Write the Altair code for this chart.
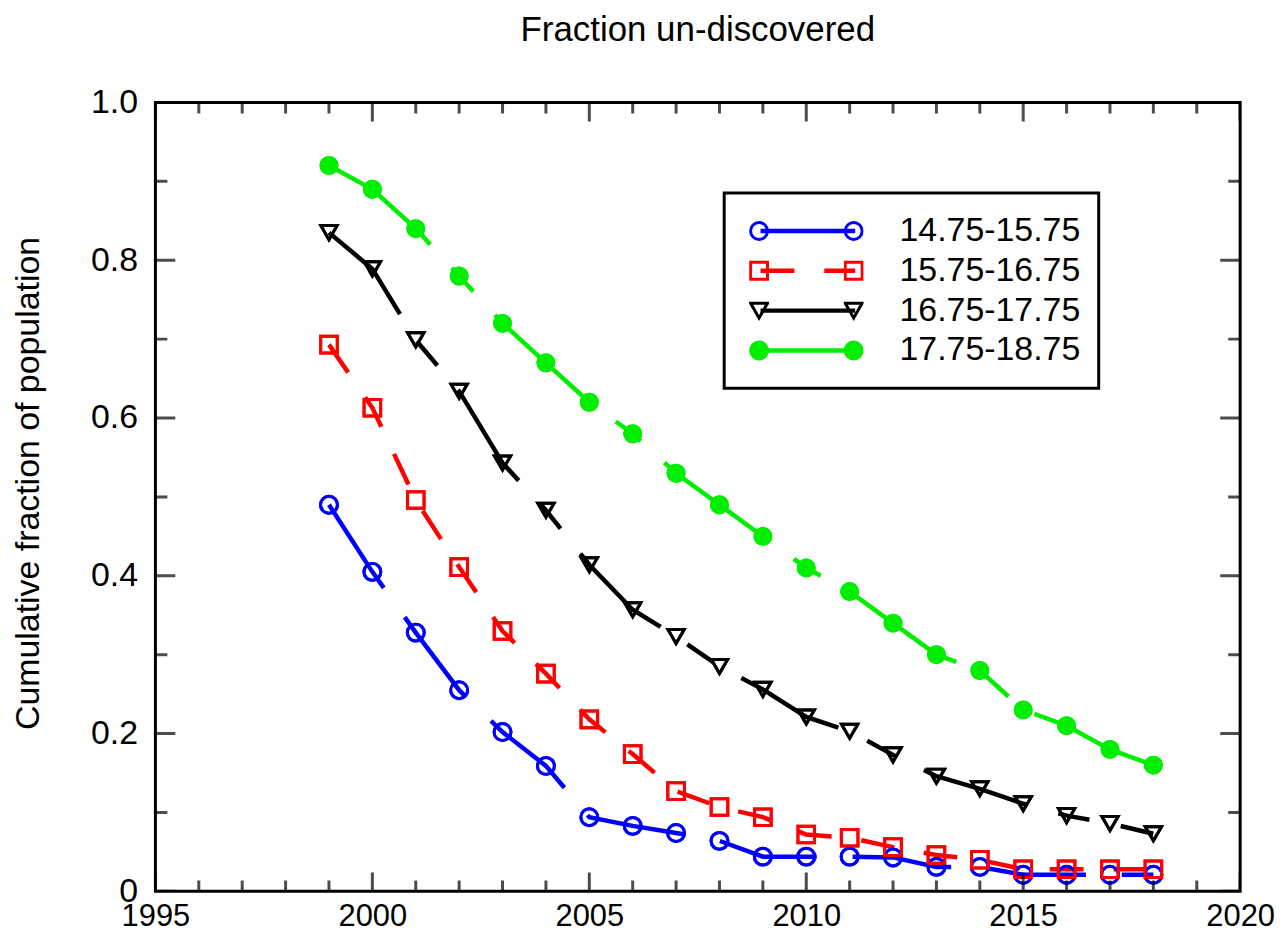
import altair as alt
import pandas as pd

# ---------------- data ----------------
years = list(range(1999, 2019))
series_names = ["14.75-15.75", "15.75-16.75", "16.75-17.75", "17.75-18.75"]
blue_vals = [0.490, 0.405, 0.328, 0.255, 0.202, 0.159, 0.094, 0.083, 0.074, 0.064,
             0.044, 0.044, 0.044, 0.043, 0.031, 0.031, 0.021, 0.021, 0.021, 0.021]
red_vals = [0.693, 0.613, 0.496, 0.411, 0.330, 0.276, 0.218, 0.174, 0.127, 0.107,
            0.094, 0.072, 0.068, 0.056, 0.046, 0.040, 0.028, 0.028, 0.028, 0.028]
black_vals = [0.835, 0.789, 0.699, 0.634, 0.543, 0.483, 0.414, 0.357, 0.323, 0.285,
              0.256, 0.221, 0.203, 0.173, 0.146, 0.130, 0.111, 0.096, 0.086, 0.073]
green_vals = [0.920, 0.890, 0.840, 0.780, 0.720, 0.670, 0.620, 0.580, 0.530, 0.490,
              0.450, 0.410, 0.380, 0.340, 0.300, 0.280, 0.230, 0.210, 0.180, 0.160]

x_major = [1995, 2000, 2005, 2010, 2015, 2020]
x_minor = [y for y in range(1996, 2020) if y % 5 != 0]
y_major = [0.0, 0.2, 0.4, 0.6, 0.8, 1.0]
y_minor = [0.1, 0.3, 0.5, 0.7, 0.9]

# ---------------- styles ----------------
colors = ["#0000ff", "#ff0000", "#000000", "#00ee00"]
dashes = [[100, 36], [34, 30], [110, 32, 32, 32], [130, 32, 32, 32]]
shapes = ["circle", "square", "triangle-down", "circle"]
fills = ["transparent", "transparent", "transparent", "#00ee00"]
sizes = [289, 256, 256, 400]
FONT = "Liberation Sans"
FS = 34

rows = []
for name, vals in zip(series_names, [blue_vals, red_vals, black_vals, green_vals]):
    for yr, v in zip(years, vals):
        rows.append({"year": yr, "value": v, "series": name, "marker": name})
df = pd.DataFrame(rows)

xs = alt.Scale(domain=[1995, 2020], nice=False, zero=False)
ys = alt.Scale(domain=[0, 1], nice=False, zero=False)

x_axis = alt.Axis(values=x_major, format="d", ticks=False, domain=False, grid=False,
                  labelFontSize=31, labelPadding=10, labelFlush=False, labelOverlap=False,
                  title=None)
y_axis = alt.Axis(values=y_major, ticks=False, domain=False, grid=False,
                  labelExpr="datum.value == 0 ? '0' : format(datum.value, '.1f')",
                  labelFontSize=FS, labelPadding=18, labelFlush=False, labelOverlap=False,
                  title="Cumulative fraction of population", titleFontSize=FS,
                  titleFontWeight="normal", titlePadding=45, titleY=382)

LX, LY, PAD, ROWH = 571, 91, 18, 40

line_legend = alt.Legend(orient="none", legendX=LX, legendY=LY, direction="vertical",
                         title=None, symbolType="stroke", symbolSize=9025,
                         symbolStrokeWidth=4.5, clipHeight=ROWH, padding=PAD, rowPadding=0,
                         symbolOffset=16, labelOffset=42, labelFontSize=FS,
                         labelLimit=0, strokeColor="black")


def marker_legend(lx):
    return alt.Legend(orient="none", legendX=lx, legendY=LY, direction="vertical",
                      title=None, symbolSize=289, symbolStrokeWidth=3,
                      clipHeight=ROWH, padding=PAD, rowPadding=0,
                      labelExpr="''", labelFontSize=1, labelOffset=0)


base = alt.Chart(df)

lines = base.mark_line(strokeWidth=4.5, clip=True).encode(
    x=alt.X("year:Q", scale=xs, axis=x_axis),
    y=alt.Y("value:Q", scale=ys, axis=y_axis),
    stroke=alt.Stroke("series:N", scale=alt.Scale(domain=series_names, range=colors),
                      legend=line_legend),
    strokeDash=alt.StrokeDash("series:N", scale=alt.Scale(domain=series_names, range=dashes),
                              legend=line_legend),
)


def point_layer(lx):
    leg = marker_legend(lx)
    return base.mark_point(opacity=1, strokeWidth=3, clip=True).encode(
        x=alt.X("year:Q", scale=xs, axis=x_axis),
        y=alt.Y("value:Q", scale=ys, axis=y_axis),
        stroke=alt.Stroke("series:N", scale=alt.Scale(domain=series_names, range=colors),
                          legend=leg),
        fill=alt.Fill("series:N", scale=alt.Scale(domain=series_names, range=fills),
                      legend=leg),
        shape=alt.Shape("series:N", scale=alt.Scale(domain=series_names, range=shapes),
                        legend=leg),
        size=alt.Size("marker:N", scale=alt.Scale(range=sizes), legend=None),
    )


points_left = point_layer(LX + 7)
points_right = point_layer(LX + 102)


def x_ticks(vals, length, edge):
    return alt.Chart(pd.DataFrame({"t": vals})).mark_tick(
        orient="vertical", thickness=3, color="black", clip=True
    ).encode(
        x=alt.X("t:Q", scale=xs, axis=x_axis),
        y=alt.YDatum(edge, scale=ys, axis=y_axis),
        size=alt.value(2 * length),
    )


def y_ticks(vals, length, edge):
    return alt.Chart(pd.DataFrame({"t": vals})).mark_tick(
        orient="horizontal", thickness=3, color="black", clip=True
    ).encode(
        y=alt.Y("t:Q", scale=ys, axis=y_axis),
        x=alt.XDatum(edge, scale=xs, axis=x_axis),
        size=alt.value(2 * length),
    )


ticks = [
    x_ticks(x_major, 19, 0), x_ticks(x_minor, 11, 0),
    x_ticks(x_major, 19, 1), x_ticks(x_minor, 11, 1),
    y_ticks(y_major, 20, 1995), y_ticks(y_minor, 12, 1995),
    y_ticks(y_major, 20, 2020), y_ticks(y_minor, 12, 2020),
]

chart = alt.layer(lines, points_left, points_right, *ticks).resolve_scale(
    stroke="independent", strokeDash="independent", fill="independent",
    shape="independent", size="independent",
).resolve_legend(
    stroke="independent", strokeDash="independent", fill="independent",
    shape="independent",
).properties(
    width=1089, height=792,
    autosize=alt.AutoSizeParams(type="none"),
    padding={"left": 148, "top": 93, "right": 38, "bottom": 42},
    title=alt.TitleParams("Fraction un-discovered", fontSize=35, fontWeight="normal",
                          font=FONT, color="black", offset=38, anchor="middle"),
).configure_view(
    stroke="black", strokeWidth=3
).configure_axis(
    labelFont=FONT, titleFont=FONT, labelColor="black", titleColor="black"
).configure_legend(
    labelFont=FONT, labelColor="black", strokeWidth=3
)

chart.save("out.html", embed_options={"renderer": "svg", "actions": False})
